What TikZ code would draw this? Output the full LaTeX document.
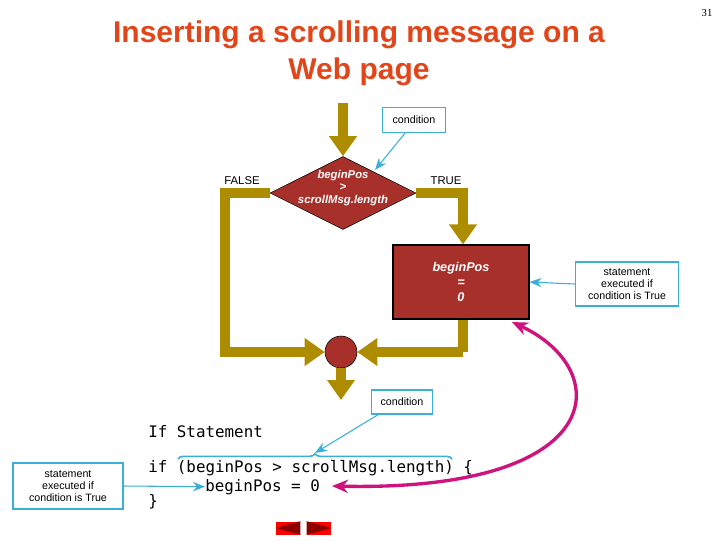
\documentclass[tikz,border=0pt]{standalone}
\usepackage{fontspec}
\setmainfont{Liberation Sans}
\newfontfamily\codefont{DejaVu Sans Mono}
\newfontfamily\numfont{Liberation Serif}
\usetikzlibrary{shapes.geometric,arrows.meta,decorations.pathreplacing}
\definecolor{olive}{HTML}{AE8C00}
\definecolor{brick}{HTML}{A8302A}
\definecolor{cyanl}{HTML}{3AB0D8}
\definecolor{mag}{HTML}{D0127E}
\definecolor{titlec}{HTML}{E2451A}
\tikzset{
 flow/.style={draw=olive,line width=8pt,-{Triangle[length=15pt,width=20pt]}},
 flowp/.style={draw=olive,line width=8pt},
 note/.style={draw=cyanl,line width=1pt,fill=white,font=\fontsize{8}{9}\selectfont,align=center,inner sep=3pt},
 notearr/.style={draw=cyanl,line width=0.8pt,-{Stealth[length=9pt,width=7pt]}},
 code/.style={font=\codefont\fontsize{11.9}{12}\selectfont,anchor=base west,inner sep=0pt},
 lbl/.style={font=\fontsize{8.5}{10}\selectfont,inner sep=0pt}
}
\begin{document}
\begin{tikzpicture}[x=0.75pt,y=-0.75pt]
\useasboundingbox (0,0) rectangle (720,540);
\node[font=\bfseries\fontsize{22.5}{27.5}\selectfont,text=titlec,align=center] (title) at (359,53) {Inserting a scrolling message on a\\Web page};
\node[font=\numfont\fontsize{8}{9}\selectfont] (pg) at (707,13) {31};
% shapes
\node[diamond,aspect=2,draw=black,fill=brick,minimum width=146pt*0.75,minimum height=73pt*0.75,inner sep=0pt] (dia) at (343,193) {};
\node[text=white,font=\bfseries\itshape\fontsize{8.5}{9.5}\selectfont,align=center] (diat) at (343,188) {beginPos\\>\\scrollMsg.length};
\node[draw=black,line width=0.8pt,fill=brick,minimum width=136*0.75pt,minimum height=74*0.75pt,text=white,font=\bfseries\itshape\fontsize{9.5}{11}\selectfont,align=center] (box) at (461,282) {beginPos\\=\\0};
\node[circle,draw=black,fill=brick,minimum size=32*0.75pt,inner sep=0pt] (join) at (341,352) {};
\coordinate (top) at (343,103);
\coordinate (bot) at (341,400);
\coordinate (lc) at (225,193);
\coordinate (ld) at (225,352);
\coordinate (rc) at (463,193);
\coordinate (rd) at (463,352);
\draw[flow] (top) -- (dia.north);
\draw[flowp] (dia.west) -- (lc) -- (ld) -- ++(2,0);
\draw[flow] (ld) -- (join.west);
\draw[flow] (dia.east) -- (rc) -- (box.north -| rc);
\draw[flowp] (box.south -| rd) -- (rd);
\draw[flow] (rd) -- (join.east);
\draw[flow] (join.south) -- (bot);
\node[lbl] (f) at (242,181) {FALSE};
\node[lbl] (t) at (446,181) {TRUE};
% notes
\node[note,minimum width=63*0.75pt,minimum height=25*0.75pt] (c1) at (414,120) {condition};
\draw[notearr] (c1.south -| 405,0) -- (375,170);
\node[note,minimum width=103*0.75pt,minimum height=44*0.75pt] (s1) at (627,284) {statement\\executed if\\condition is True};
\draw[notearr] (s1.west) -- (box.east);
\node[note,minimum width=61*0.75pt,minimum height=24*0.75pt] (c2) at (402,402) {condition};
% code
\node[code] (l1) at (148,437) {If Statement};
\node[code] (l2) at (148,472) {if (beginPos > scrollMsg.length) \{};
\node[code] (l3) at (205,491) {beginPos = 0};
\node[code] (l4) at (148,506) {\}};
\draw[cyanl,line width=1.2pt,decorate,decoration={brace,amplitude=4pt}] (178,459) -- (452,459);
\coordinate (bt) at (315,453);
\draw[notearr] (c2.south -| 378,0) -- (bt);
\node[note,minimum width=110*0.75pt,minimum height=46*0.75pt] (s2) at (68,486) {statement\\executed if\\condition is True};
\draw[notearr] (s2.east) -- (l3.west);
% magenta
\coordinate (m1) at (512,322);
\coordinate (m2) at (332,486);
\draw[mag,line width=2.5pt,{Stealth[length=12pt,width=10pt]}-{Stealth[length=12pt,width=10pt]}] (m1) .. controls (615,370) and (610,492) .. (m2);
% nav
\node[fill=red,minimum width=24*0.75pt,minimum height=13*0.75pt,inner sep=0] (nb1) at (288,528) {};
\node[fill=red,minimum width=24*0.75pt,minimum height=13*0.75pt,inner sep=0] (nb2) at (319,528) {};
\fill[red!55!black] (nb1.north east) -- (nb1.west) -- (nb1.south east) -- cycle;
\fill[red!55!black] (nb2.north west) -- (nb2.east) -- (nb2.south west) -- cycle;
\end{tikzpicture}
\end{document}
